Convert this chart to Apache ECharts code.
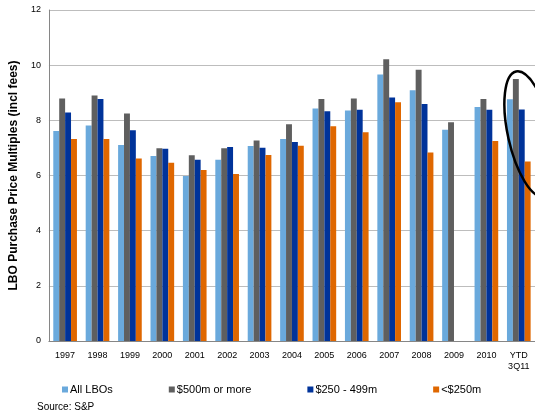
<!DOCTYPE html>
<html>
<head>
<meta charset="utf-8">
<script src="https://cdn.jsdelivr.net/npm/echarts@6/dist/echarts.min.js"></script>
<style>
  html, body { margin: 0; padding: 0; background: #fff; }
  #chart { width: 535px; height: 412px; }
</style>
</head>
<body>
<div id="chart"></div>
<script>
var categories = ['1997', '1998', '1999', '2000', '2001', '2002', '2003', '2004', '2005', '2006', '2007', '2008', '2009', '2010', 'YTD\n3Q11']
var allLbos = [7.61, 7.81, 7.11, 6.71, 5.98, 6.57, 7.07, 7.32, 8.43, 8.36, 9.66, 9.09, 7.66, 8.48, 8.76]
var over500 = [8.79, 8.90, 8.25, 6.99, 6.73, 6.99, 7.27, 7.86, 8.77, 8.79, 10.21, 9.83, 7.93, 8.77, 9.50]
var mid250 = [8.28, 8.77, 7.64, 6.97, 6.57, 7.03, 7.01, 7.21, 8.33, 8.38, 8.83, 8.59, null, 8.38, 8.39]
var under250 = [7.32, 7.32, 6.62, 6.46, 6.20, 6.05, 6.74, 7.08, 7.79, 7.57, 8.66, 6.83, null, 7.25, 6.51]
var yTicks = { min: 0, max: 12, interval: 2 }

var font = 'Liberation Sans, Arial, sans-serif'
var chart = echarts.init(document.getElementById('chart'))

function bar(name, data, color) {
    return {
        name: name,
        type: 'bar',
        data: data,
        barGap: '0%',
        barCategoryGap: '27%',
        itemStyle: { color: color },
        emphasis: { disabled: true }
    }
}

var option = {
    animation: false,
    textStyle: { fontFamily: font },
    grid: { left: 43, top: 10, width: 495, bottom: 71 },
    legend: {
        bottom: 12,
        left: 57,
        itemWidth: 6,
        itemHeight: 6,
        itemGap: 56,
        icon: 'rect',
        textStyle: { fontSize: 11, color: '#000', fontFamily: font, padding: [0, 0, 0, -3] },
        data: ['All LBOs', '$500m or more', '$250 - 499m', '<$250m']
    },
    xAxis: {
        type: 'category',
        data: categories,
        axisLine: { lineStyle: { color: '#868686', width: 1 } },
        axisTick: { show: false },
        axisLabel: { fontSize: 9, color: '#000', margin: 9, lineHeight: 11, interval: 0 }
    },
    yAxis: {
        type: 'value',
        min: yTicks.min,
        max: yTicks.max,
        interval: yTicks.interval,
        name: 'LBO Purchase Price Multiples (incl fees)',
        nameLocation: 'middle',
        nameGap: 24,
        nameTextStyle: { fontSize: 12, fontWeight: 'bold', color: '#000' },
        axisLine: { show: true, lineStyle: { color: '#868686' } },
        axisTick: { show: false },
        axisLabel: { fontSize: 9, color: '#000', margin: 8 },
        splitLine: { lineStyle: { color: '#bdbdbd', width: 1 } }
    },
    series: [
        bar('All LBOs', allLbos, '#6aa9dc'),
        bar('$500m or more', over500, '#5f5f5f'),
        bar('$250 - 499m', mid250, '#00339a'),
        bar('<$250m', under250, '#df6700')
    ],
    graphic: [
        {
            type: 'ellipse',
            shape: { cx: 0, cy: 0, rx: 22, ry: 64 },
            x: 530, y: 134,
            rotation: 0.22,
            style: { fill: 'none', stroke: '#000', lineWidth: 2.5 },
            z: 100
        },
        {
            type: 'text',
            left: 37,
            top: 402,
            style: { text: 'Source: S&P', fontSize: 10, fill: '#000', fontFamily: font }
        }
    ]
}

chart.setOption(option)
</script>
</body>
</html>
